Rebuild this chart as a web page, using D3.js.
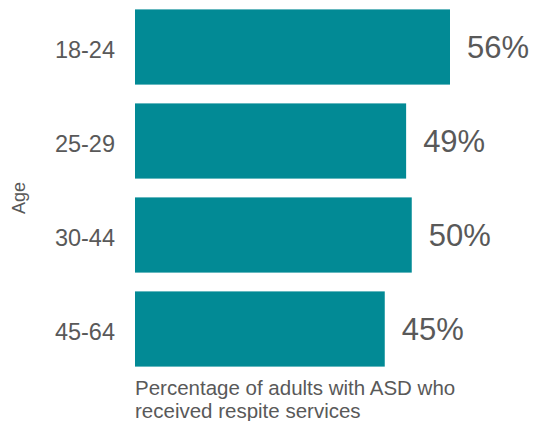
<!DOCTYPE html>
<html>
<head>
<meta charset="utf-8">
<script src="https://cdn.jsdelivr.net/npm/d3@7"></script>
<style>
  html, body { margin: 0; padding: 0; background: #fff; }
  svg { display: block; font-family: "Liberation Sans", Arial, sans-serif; }
</style>
</head>
<body>
<svg id="chart" width="534" height="421"></svg>
<script>
const categories = ["18-24", "25-29", "30-44", "45-64"];
const values = [56, 48.2, 49.2, 44.4];
const valueLabels = ["56%", "49%", "50%", "45%"];
const axisTitle = "Age";
const captionLines = ["Percentage of adults with ASD who", "received respite services"];

const svg = d3.select("#chart");
const barColor = "#028A95";
const textColor = "#595959";

const x = d3.scaleLinear().domain([0, 56]).range([135, 450]);
const y = d3.scaleBand().domain(categories).range([0, 376]).paddingInner(0.2).paddingOuter(0.1);

svg.selectAll("rect.bar")
  .data(categories)
  .join("rect")
  .attr("class", "bar")
  .attr("x", x(0))
  .attr("y", d => y(d))
  .attr("width", (d, i) => x(values[i]) - x(0))
  .attr("height", y.bandwidth())
  .attr("fill", barColor);

svg.selectAll("text.val")
  .data(categories)
  .join("text")
  .attr("class", "val")
  .attr("x", (d, i) => x(values[i]) + 17)
  .attr("y", d => y(d) + y.bandwidth() / 2)
  .attr("dy", "0.37em")
  .attr("font-size", 31)
  .attr("fill", textColor)
  .text((d, i) => valueLabels[i]);

const yAxis = d3.axisLeft(y).tickSize(0).tickPadding(20);
const gy = svg.append("g").attr("transform", `translate(${x(0)},0)`).call(yAxis);
gy.select(".domain").remove();
gy.selectAll("text")
  .attr("font-size", 23.5)
  .attr("font-family", "Liberation Sans, Arial, sans-serif")
  .attr("fill", textColor)
  .attr("dy", "0.45em");

svg.append("text")
  .attr("transform", "translate(24.5,198) rotate(-90)")
  .attr("text-anchor", "middle")
  .attr("font-size", 18)
  .attr("fill", textColor)
  .text(axisTitle);

svg.selectAll("text.cap")
  .data(captionLines)
  .join("text")
  .attr("class", "cap")
  .attr("x", x(0))
  .attr("y", (d, i) => 395 + i * 22.5)
  .attr("font-size", 20.5)
  .attr("fill", textColor)
  .text(d => d);
</script>
</body>
</html>
